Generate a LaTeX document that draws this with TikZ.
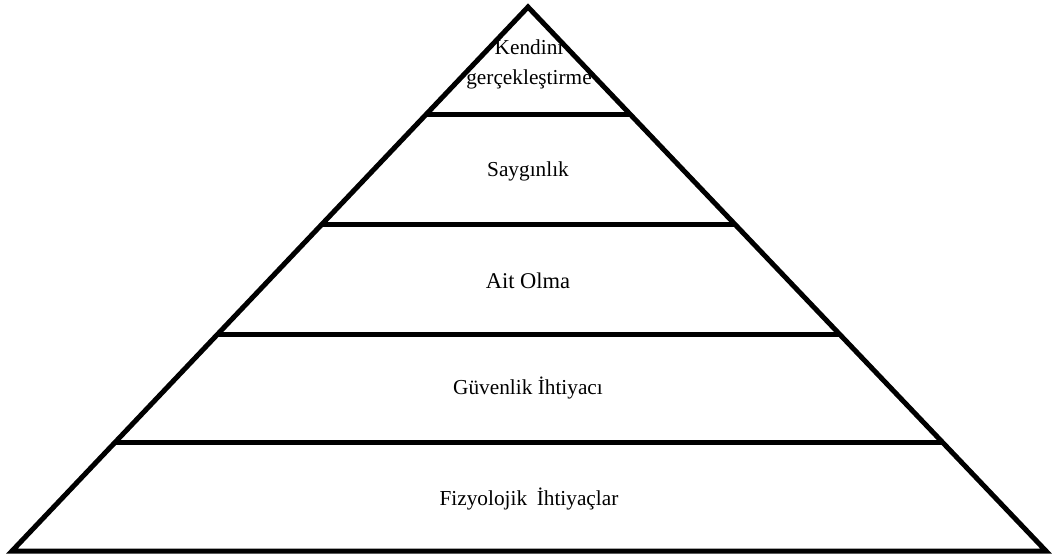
\documentclass[tikz,border=0pt]{standalone}
\usepackage{fontspec}
\setmainfont{Liberation Serif}
\newfontfamily\tnr{Liberation Serif}
\usetikzlibrary{calc}
\begin{document}
\begin{tikzpicture}[x=1pt,y=-1pt,
  edge/.style={line width=5pt},
  lbl/.style={font=\tnr\fontsize{21.3}{30}\selectfont, align=center, inner sep=0pt}]
\useasboundingbox (0,0) rectangle (1053,558);
\coordinate (apex) at (528,7);
\coordinate (bl) at (12,551);
\coordinate (br) at (1046,551);
\draw[edge] (bl) -- (apex) -- (br) -- cycle;
\foreach \y/\n in {115/a,224/b,334/c,442/d}{
  \pgfmathsetmacro{\t}{(\y-7)/544}
  \coordinate (l\n) at ($(apex)!\t!(bl)$);
  \coordinate (r\n) at ($(apex)!\t!(br)$);
  \draw[edge] (l\n) -- (r\n);
}
\node[lbl] (k) at (529,64) {Kendini\\gerçekleştirme};
\node[lbl] (s) at (528,171) {Saygınlık};
\node[lbl, font=\tnr\fontsize{22.5}{30}\selectfont] (ao) at (528,281) {Ait Olma};
\node[lbl] (g) at (528,388) {Güvenlik İhtiyacı};
\node[lbl] (f) at (529,499) {Fizyolojik\hspace{0.45em}İhtiyaçlar};
\end{tikzpicture}
\end{document}
